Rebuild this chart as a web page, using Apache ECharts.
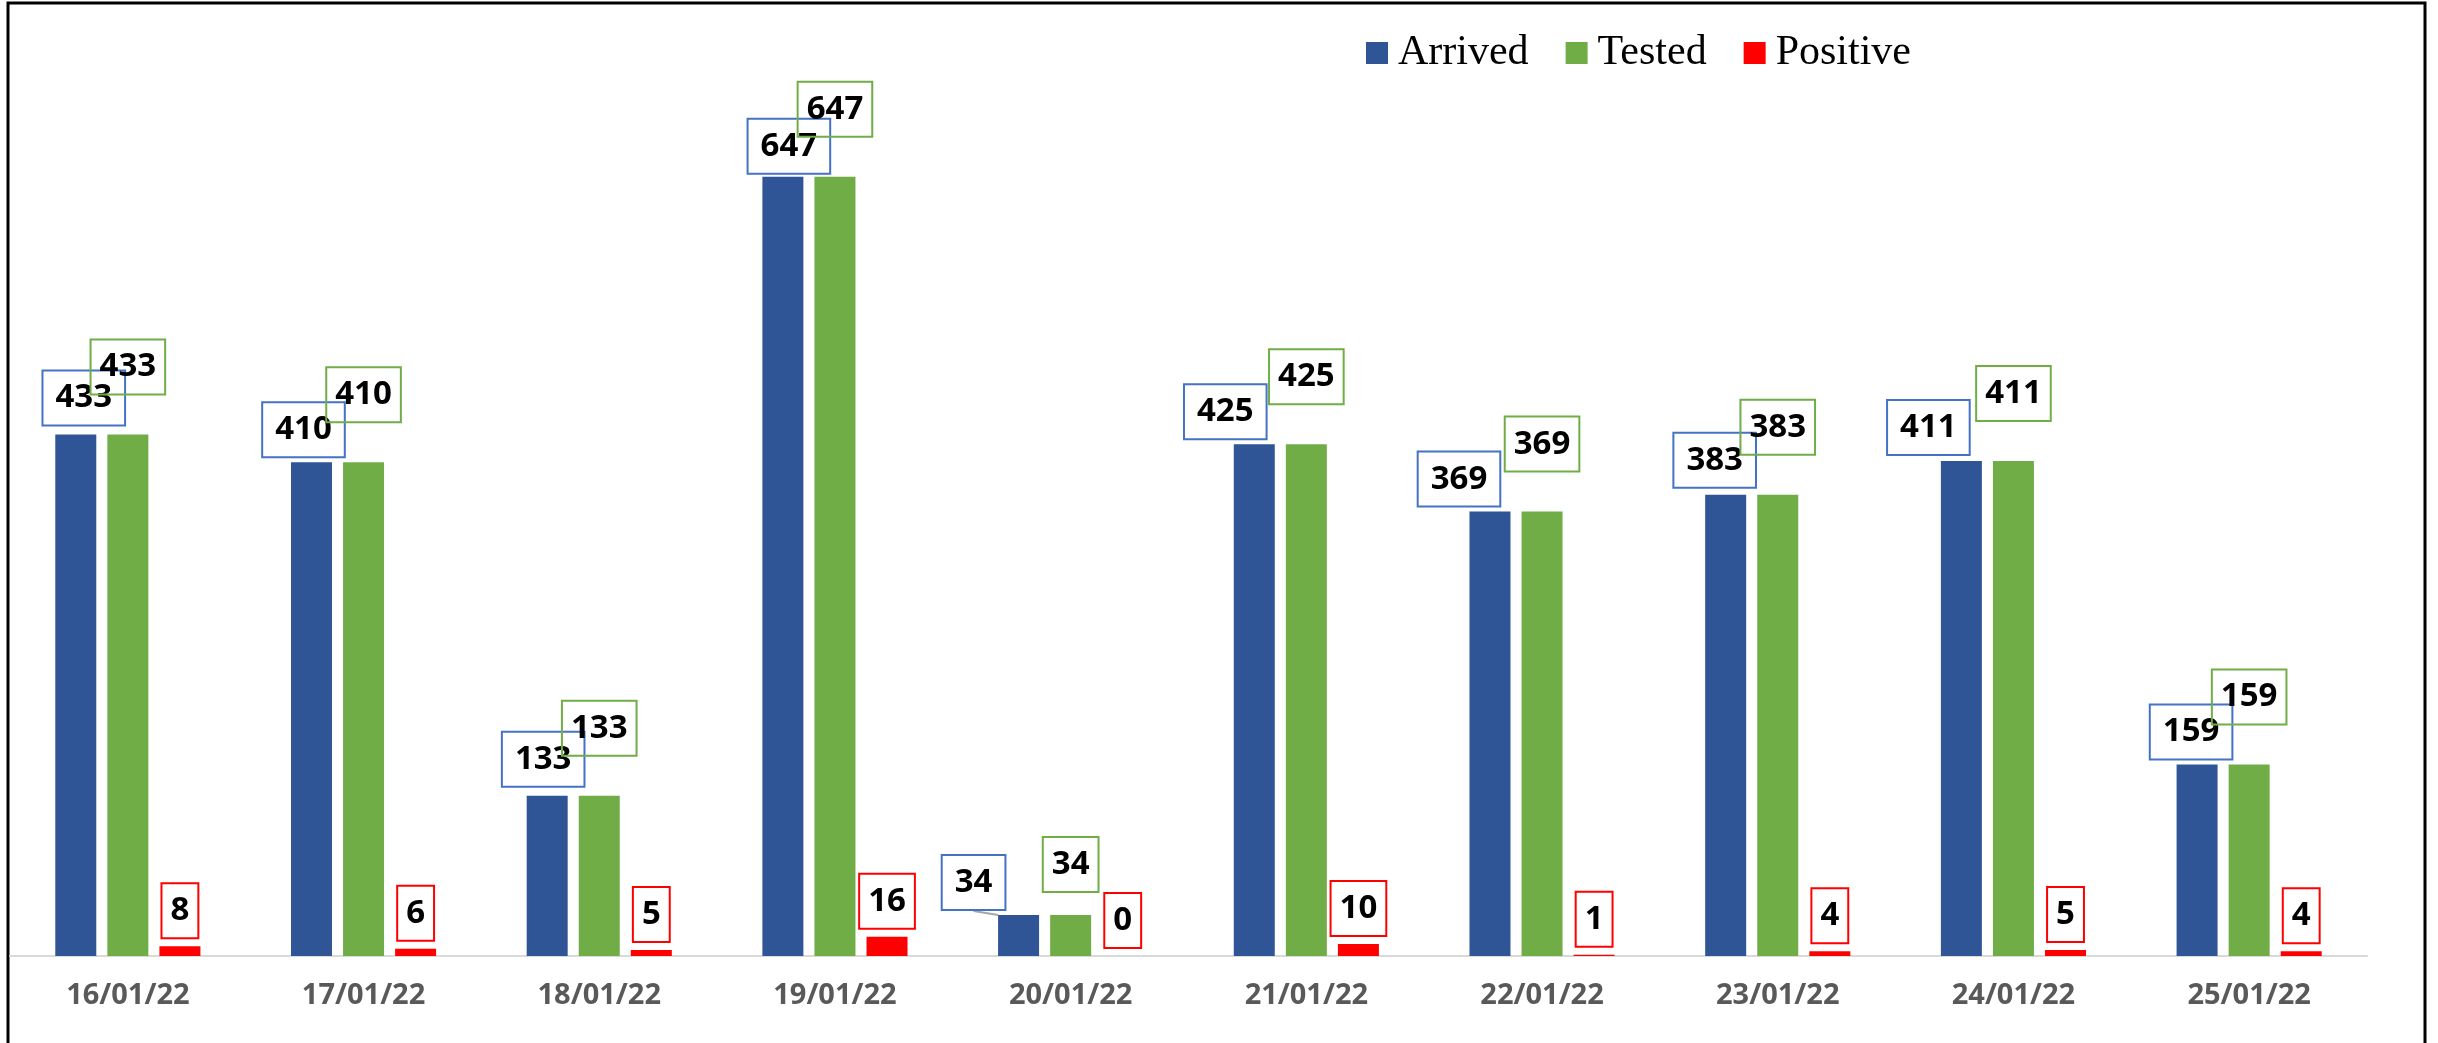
<!DOCTYPE html>
<html>
<head>
<meta charset="utf-8">
<script src="https://cdn.jsdelivr.net/npm/echarts@6/dist/echarts.min.js"></script>
<style>
html, body { margin: 0; padding: 0; background: #fff; }
#chart { width: 2438px; height: 1043px; }
</style>
</head>
<body>
<div id="chart"></div>
<script>
'use strict';

var dates = ['16/01/22', '17/01/22', '18/01/22', '19/01/22', '20/01/22',
    '21/01/22', '22/01/22', '23/01/22', '24/01/22', '25/01/22'];
var arrived = [433, 410, 133, 647, 34, 425, 369, 383, 411, 159];
var tested = [433, 410, 133, 647, 34, 425, 369, 383, 411, 159];
var positive = [8, 6, 5, 16, 0, 10, 1, 4, 5, 4];

// label nudges, px (Excel labels were dragged by hand)
var arrivedLabelDx = [8, -8, -4, 6, -45, -29, -31, -11, -33, -6];
var arrivedLabelDy = [-4, 0, -4, 2, 0, 0, 0, -2, -1, 0];
var testedLabelDy = [0, 0, 0, 0, 17, 0, 0, 0, 0, 0];

var BLUE = '#2F5597';
var GREEN = '#70AD47';
var RED = '#FF0000';

function boxLabel(borderColor, padX, distance) {
    return {
        show: true,
        position: 'top',
        distance: distance,
        color: '#000',
        fontFamily: 'Open Sans',
        fontWeight: 'bold',
        fontSize: 33,
        lineHeight: 35,
        padding: [10, padX],
        borderColor: borderColor,
        borderWidth: 2
    };
}

var chart = echarts.init(document.getElementById('chart'));

var option = {
    animation: false,
    backgroundColor: '#fff',
    graphic: [{
        type: 'rect',
        shape: { x: 8, y: 3, width: 2417, height: 1100 },
        style: { fill: null, stroke: '#000', lineWidth: 3 },
        silent: true
    }],
    legend: {
        left: 1361,
        top: 27,
        icon: 'rect',
        itemWidth: 22,
        itemHeight: 22,
        itemGap: 37,
        textStyle: {
            fontFamily: 'Liberation Serif',
            fontSize: 42,
            color: '#000',
            padding: [0, 0, 0, 5]
        },
        data: ['Arrived', 'Tested', 'Positive']
    },
    grid: {
        left: 10,
        right: 71,
        top: 113,
        bottom: 87
    },
    xAxis: {
        type: 'category',
        data: dates,
        axisLine: { lineStyle: { color: '#D9D9D9', width: 2 } },
        axisTick: { show: false },
        axisLabel: {
            margin: 25,
            color: '#595959',
            fontFamily: 'Open Sans',
            fontWeight: 'bold',
            fontSize: 29
        }
    },
    yAxis: {
        type: 'value',
        min: 0,
        max: 700,
        show: false
    },
    series: [{
        name: 'Arrived',
        type: 'bar',
        barWidth: 41,
        barGap: '27%',
        itemStyle: { color: BLUE },
        label: boxLabel('#4472C4', 13, 5),
        labelLine: { show: false, lineStyle: { color: '#A6A6A6', width: 2 } },
        labelLayout: function(params) {
            return { dx: arrivedLabelDx[params.dataIndex], dy: arrivedLabelDy[params.dataIndex] };
        },
        data: arrived.map(function(v, i) {
            return i === 4 ? { value: v, labelLine: { show: true } } : v;
        })
    }, {
        name: 'Tested',
        type: 'bar',
        barWidth: 41,
        itemStyle: { color: GREEN },
        label: boxLabel(GREEN, 9, 40),
        labelLayout: function(params) {
            return { dy: testedLabelDy[params.dataIndex] };
        },
        data: tested
    }, {
        name: 'Positive',
        type: 'bar',
        barWidth: 41,
        itemStyle: { color: RED },
        label: boxLabel(RED, 9, 8),
        data: positive
    }]
};

chart.setOption(option);
</script>
</body>
</html>
